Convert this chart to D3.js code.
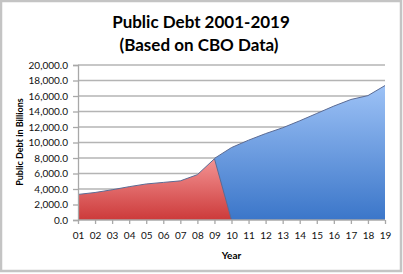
<!DOCTYPE html>
<html>
<head>
<meta charset="utf-8">
<script src="https://cdn.jsdelivr.net/npm/d3@7"></script>
<style>
  body { margin: 0; background: #fff; }
  svg { display: block; font-family: Lato, "Open Sans", sans-serif; }
</style>
</head>
<body>
<svg id="chart"></svg>
<script>
// years on the category axis
const years = ["01","02","03","04","05","06","07","08","09","10","11","12","13","14","15","16","17","18","19"];
// red series: 2001-2009, drops to zero at 2010
const redValues = [3300, 3550, 3900, 4300, 4650, 4850, 5050, 5850, 7900, 0, null, null, null, null, null, null, null, null, null];
// blue series: 2009 onward
const blueValues = [null, null, null, null, null, null, null, null, 7950, 9350, 10300, 11150, 11900, 12800, 13750, 14700, 15550, 16050, 17350];
const yTicks = [0, 2000, 4000, 6000, 8000, 10000, 12000, 14000, 16000, 18000, 20000];

const [w, h] = [403, 274];
const margin = {left: 78, right: 18, top: 65, bottom: 54};

const svg = d3.select("#chart").attr("width", w).attr("height", h);

// gray frame
svg.append("rect").attr("x", 1).attr("y", 1).attr("width", w - 3).attr("height", h - 4)
  .attr("fill", "#fff").attr("stroke", "#c4c4c4").attr("stroke-width", 2.5);

const xScale = d3.scalePoint().domain(years).range([margin.left, w - margin.right]);
const yScale = d3.scaleLinear().domain([0, 20000]).range([h - margin.bottom, margin.top]);

// gradients
const defs = svg.append("defs");
function grad(id, top, bottom, y1, y2) {
  const g = defs.append("linearGradient").attr("id", id)
    .attr("gradientUnits", "userSpaceOnUse").attr("x1", 0).attr("x2", 0).attr("y1", y1).attr("y2", y2);
  g.append("stop").attr("offset", "0%").attr("stop-color", top);
  g.append("stop").attr("offset", "100%").attr("stop-color", bottom);
}
grad("redGrad", "#f49494", "#cc3a3a", yScale(d3.max(redValues)), yScale(0));
grad("blueGrad", "#9dc2f6", "#3b76c9", yScale(d3.max(blueValues)), yScale(0));

// gridlines
svg.append("g").selectAll("line").data(yTicks.slice(1)).enter().append("line")
  .attr("x1", margin.left).attr("x2", w - margin.right)
  .attr("y1", d => yScale(d)).attr("y2", d => yScale(d))
  .attr("stroke", "#b4b4b4").attr("stroke-width", 1.3);

// areas
const area = d3.area()
  .defined(d => d.v !== null)
  .x(d => xScale(d.year)).y0(yScale(0)).y1(d => yScale(d.v));
const line = d3.line()
  .defined(d => d.v !== null)
  .x(d => xScale(d.year)).y(d => yScale(d.v));

const blueData = years.map((year, i) => ({year, v: blueValues[i]}));
const redData = years.map((year, i) => ({year, v: redValues[i]}));

svg.append("path").datum(blueData).attr("d", area).attr("fill", "url(#blueGrad)");
svg.append("path").datum(blueData).attr("d", line).attr("fill", "none").attr("stroke", "#5b6b94").attr("stroke-width", 1);
svg.append("path").datum(redData).attr("d", area).attr("fill", "url(#redGrad)");
svg.append("path").datum(redData).attr("d", line).attr("fill", "none").attr("stroke", "#5b6b94").attr("stroke-width", 1);

// axes
const yAxis = d3.axisLeft(yScale).tickValues(yTicks).tickFormat(d3.format(",.1f")).tickSize(5).tickPadding(5);
const xAxis = d3.axisBottom(xScale).tickSize(4).tickPadding(8);

const gy = svg.append("g").attr("transform", `translate(${margin.left},0)`).call(yAxis);
const gx = svg.append("g").attr("transform", `translate(0,${h - margin.bottom})`).call(xAxis);
[gx, gy].forEach(g => {
  g.select(".domain").attr("stroke", "#a8a8a8").attr("stroke-width", 1.3);
  g.selectAll(".tick line").attr("stroke", "#a8a8a8").attr("stroke-width", 1.3);
  g.selectAll("text").attr("fill", "#111").attr("font-size", 10).attr("font-family", "Lato, 'Open Sans', sans-serif");
});
gx.select(".domain").attr("d", `M${margin.left},0H${w - margin.right}`);

// titles
svg.append("text").attr("x", 201).attr("y", 28).attr("text-anchor", "middle")
  .attr("font-size", 17).attr("font-weight", "bold").attr("fill", "#000").text("Public Debt 2001-2019");
svg.append("text").attr("x", 199).attr("y", 51).attr("text-anchor", "middle")
  .attr("font-size", 17).attr("font-weight", "bold").attr("fill", "#000").text("(Based on CBO Data)");
svg.append("text").attr("x", (margin.left + w - margin.right) / 2).attr("y", 259).attr("text-anchor", "middle")
  .attr("font-size", 10).attr("font-weight", "bold").attr("fill", "#000").text("Year");
svg.append("text").attr("transform", "translate(23,142) rotate(-90)").attr("text-anchor", "middle")
  .attr("font-size", 9).attr("font-weight", "bold").attr("fill", "#000").text("Public Debt in Billions");
</script>
</body>
</html>
